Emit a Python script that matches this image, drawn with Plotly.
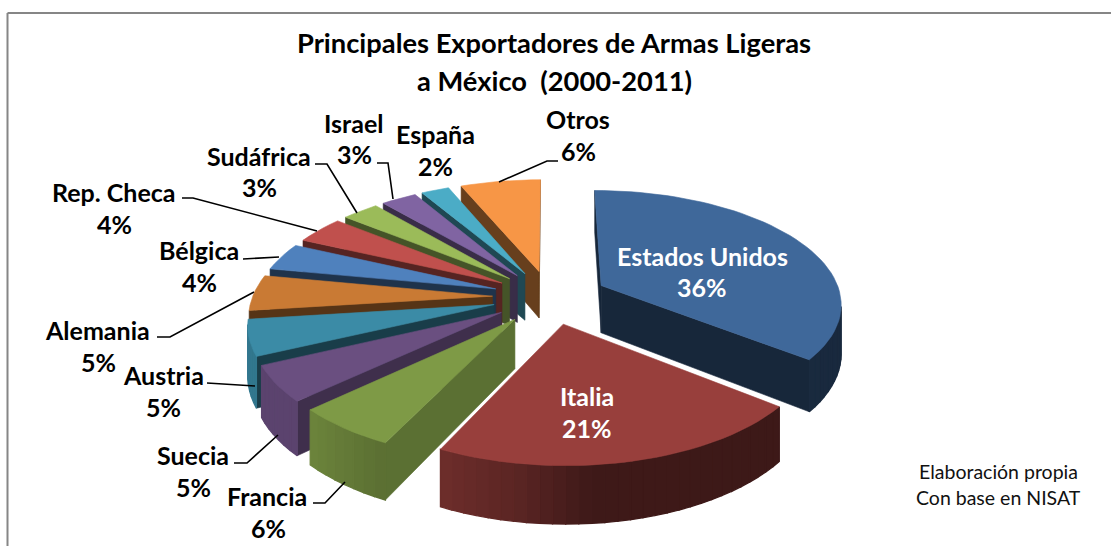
import numpy as np
import plotly.graph_objects as go

# ---- data ----
categories = ["Estados Unidos", "Italia", "Francia", "Suecia", "Austria", "Alemania",
              "Bélgica", "Rep. Checa", "Sudáfrica", "Israel", "España", "Otros"]
values = [35.7, 21.45, 5.85, 5.0, 5.0, 5.0, 3.9, 3.9, 2.9, 2.8, 2.2, 6.3]
title_lines = ["Principales Exportadores de Armas Ligeras", "a México  (2000-2011)"]
note_lines = ["Elaboración propia", "Con base en NISAT"]

# ---- styles ----
top_colors = ["#3f689a", "#983f3c", "#7e9a46", "#6a4f80", "#3b8ba6", "#c97a34",
              "#4f81bd", "#c0504d", "#9bbb59", "#8064a2", "#4bacc6", "#f79646"]
radial_shade = [0.38, 0.42, 0.73, 0.60, 0.44, 0.43, 0.40, 0.45, 0.45, 0.45, 0.42, 0.42]

# ---- projection of the tilted disc, in page pixels ----
CX, CY = 550, 297
RX, RY = 240, 112
PERSP, EXPLODE, DEPTH = 0.146, 0.24, 48


def project(X, Y):
    s = 1.0 / (1.0 + PERSP * Y)
    return CX + RX * X * s, CY - RY * Y * s, s


def drop(x, y, s):
    return x, y + DEPTH * s


def shade(color, f):
    r, g, b = int(color[1:3], 16), int(color[3:5], 16), int(color[5:7], 16)
    return f"rgb({int(r*f)},{int(g*f)},{int(b*f)})"


def arc_shade(deg):
    return float(np.interp(deg, [90, 175, 190, 205, 226, 245, 290],
                           [0.40, 0.41, 0.60, 0.72, 0.86, 0.86, 0.86]))


def quad_area(pts):
    a = 0.0
    for i in range(len(pts)):
        x0, y0 = pts[i]
        x1, y1 = pts[(i + 1) % len(pts)]
        a += x0 * y1 - x1 * y0
    return a / 2


fig = go.Figure()


def poly(xs, ys, color, width=0.6):
    fig.add_trace(go.Scatter(x=list(xs) + [xs[0]], y=list(ys) + [ys[0]], mode="lines",
                             fill="toself", fillcolor=color,
                             line=dict(color=color, width=width),
                             hoverinfo="skip", showlegend=False))


total = sum(values)
edges = np.cumsum([0] + values) / total * 360.0
order = sorted(range(len(values)),
               key=lambda i: -np.cos(np.radians((edges[i] + edges[i + 1]) / 2)))

for i in order:
    a0, a1 = edges[i], edges[i + 1]
    mid = np.radians((a0 + a1) / 2)
    ox, oy = EXPLODE * np.sin(mid), EXPLODE * np.cos(mid)
    n = max(4, int((a1 - a0) / 2.5))
    th = np.radians(np.linspace(a0, a1, n + 1))
    arc = [project(ox + np.sin(t), oy + np.cos(t)) for t in th]
    tip = project(ox, oy)
    color = top_colors[i]

    # radial walls: only those that face the viewer
    for p, q in ((tip, arc[0]), (arc[-1], tip)):
        pl, ql = drop(*p), drop(*q)
        quad = [p[:2], q[:2], ql, pl]
        if quad_area(quad) < 0:
            poly([c[0] for c in quad], [c[1] for c in quad], shade(color, radial_shade[i]))
    # outer wall, in strips so the shading can vary
    for k in range(n):
        p, q = arc[k], arc[k + 1]
        pl, ql = drop(*p), drop(*q)
        quad = [p[:2], q[:2], ql, pl]
        if quad_area(quad) < 0:
            deg = np.degrees((th[k] + th[k + 1]) / 2)
            poly([c[0] for c in quad], [c[1] for c in quad], shade(color, arc_shade(deg)), 1.3)
    # top face
    poly([tip[0]] + [c[0] for c in arc], [tip[1]] + [c[1] for c in arc], color)

# ---- leader lines ----
leaders = [
    [(558, 161), (547, 161), (499, 182)],
    [(377, 163), (388, 163), (393, 199)],
    [(315, 164), (327, 164), (357, 213)],
    [(182, 198), (193, 198), (317, 231)],
    [(243, 259), (279, 257)],
    [(157, 337), (170, 337), (254, 292)],
    [(207, 383), (255, 386)],
    [(234, 463), (247, 463), (278, 435)],
    [(313, 503), (325, 503), (345, 482)],
]
for pts in leaders:
    fig.add_trace(go.Scatter(x=[p[0] for p in pts], y=[p[1] for p in pts], mode="lines",
                             line=dict(color="#000000", width=1.6),
                             hoverinfo="skip", showlegend=False))

# ---- text ----
FONT = "Lato"
name_pos = {
    "Estados Unidos": (702, 256), "Italia": (587, 396), "Francia": (267, 496),
    "Suecia": (193, 455), "Austria": (163, 375), "Alemania": (97, 330),
    "Bélgica": (199, 250), "Rep. Checa": (114, 192), "Sudáfrica": (259, 156),
    "Israel": (354, 123), "España": (435, 134), "Otros": (578, 119),
}
pct_pos = {
    "Estados Unidos": (702, 287), "Italia": (587, 428), "Francia": (268, 528),
    "Suecia": (193, 487), "Austria": (163, 407), "Alemania": (98, 362),
    "Bélgica": (199, 282), "Rep. Checa": (114, 224), "Sudáfrica": (259, 187),
    "Israel": (354, 154), "España": (435, 166), "Otros": (578, 151),
}
annotations = []


def label(x, y, text, size, color="#000000", bold=True):
    annotations.append(dict(x=x, y=y, xref="x", yref="y", text=f"<b>{text}</b>" if bold else text,
                            showarrow=False, xanchor="center", yanchor="middle",
                            font=dict(family=FONT, size=size, color=color)))


for name, val in zip(categories, values):
    col = "#ffffff" if name in ("Estados Unidos", "Italia") else "#000000"
    label(*name_pos[name], name, 25, col)
    label(*pct_pos[name], f"{round(val)}%", 25, col)

label(554, 42, title_lines[0], 27.3)
label(554, 80, title_lines[1], 27.3)
label(998, 471, note_lines[0], 19.5, "#111111", False)
label(998, 497, note_lines[1], 19.5, "#111111", False)

frame = [
    dict(type="line", xref="x", yref="y", x0=7.5, x1=1111, y0=13, y1=13,
         line=dict(color="#868686", width=2)),
    dict(type="line", xref="x", yref="y", x0=7.5, x1=7.5, y0=13, y1=546,
         line=dict(color="#868686", width=2)),
]

fig.update_layout(
    width=1111, height=546, margin=dict(l=0, r=0, t=0, b=0),
    paper_bgcolor="#ffffff", plot_bgcolor="#ffffff",
    xaxis=dict(range=[0, 1111], visible=False, fixedrange=True),
    yaxis=dict(range=[546, 0], visible=False, fixedrange=True),
    annotations=annotations, shapes=frame, showlegend=False,
)
fig.write_html("out.html", config={"displayModeBar": False},
               post_script="document.body.style.margin='0';document.body.style.overflow='hidden';")
